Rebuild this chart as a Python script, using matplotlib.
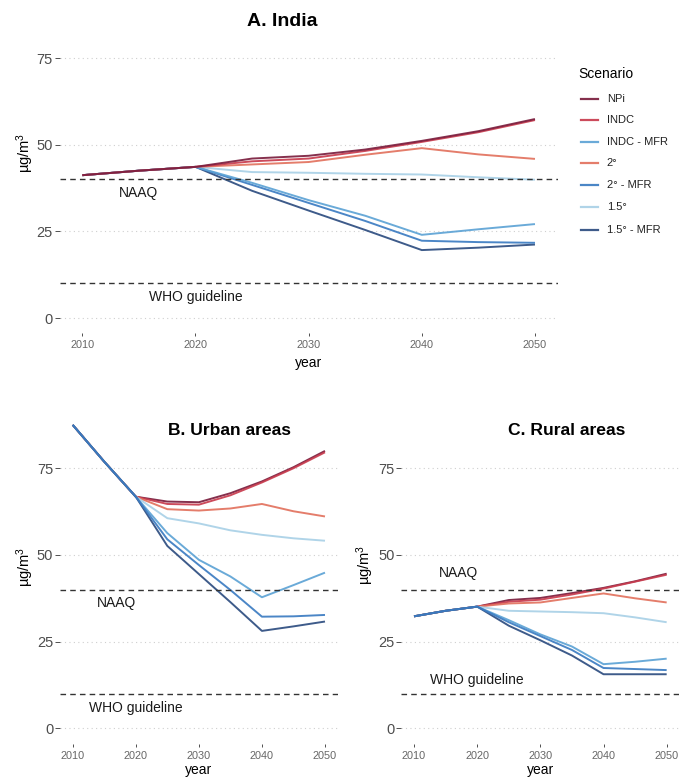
import matplotlib
matplotlib.use("Agg")
import matplotlib.pyplot as plt
from matplotlib.lines import Line2D

plt.rcParams["font.family"] = ["Liberation Sans", "DejaVu Sans"]
plt.rcParams["mathtext.fontset"] = "custom"
plt.rcParams["mathtext.rm"] = "Liberation Sans"
plt.rcParams["mathtext.it"] = "Liberation Sans:italic"

# ---- data (µg/m3) ----
years = [2010, 2015, 2020, 2025, 2030, 2035, 2040, 2045, 2050]
scenarios = ["NPi", "INDC", "INDC - MFR", "2°", "2° - MFR", "1.5°", "1.5° - MFR"]
colors = ["#7B1E3E", "#C83C4E", "#5DA3D5", "#E2725E", "#3C7CC2", "#A9D1E7", "#2D4D80"]

india = [
    [41.2, 42.5, 43.6, 46.0, 46.8, 48.6, 51.1, 53.9, 57.4],
    [41.2, 42.5, 43.6, 45.2, 46.0, 48.2, 50.8, 53.6, 57.1],
    [41.2, 42.5, 43.6, 39.0, 34.0, 29.5, 24.0, 25.6, 27.1],
    [41.2, 42.5, 43.6, 44.3, 45.0, 47.1, 49.0, 47.2, 45.9],
    [41.2, 42.5, 43.6, 38.4, 33.2, 28.0, 22.3, 21.9, 21.7],
    [41.2, 42.5, 43.6, 42.1, 41.9, 41.6, 41.4, 40.6, 39.9],
    [41.2, 42.5, 43.6, 36.7, 31.0, 25.4, 19.6, 20.3, 21.2],
]
urban = [
    [87.5, 76.9, 66.8, 65.4, 65.2, 67.8, 71.2, 75.3, 80.0],
    [87.5, 76.9, 66.8, 64.7, 64.5, 67.2, 70.9, 75.0, 79.6],
    [87.5, 76.9, 66.8, 56.3, 48.6, 43.8, 37.8, 41.3, 44.9],
    [87.5, 76.9, 66.8, 63.2, 62.8, 63.4, 64.7, 62.6, 61.1],
    [87.5, 76.9, 66.8, 54.5, 47.1, 39.9, 32.2, 32.3, 32.7],
    [87.5, 76.9, 66.8, 60.6, 59.1, 57.1, 55.8, 54.8, 54.1],
    [87.5, 76.9, 66.8, 52.6, 44.5, 36.4, 28.1, 29.4, 30.8],
]
rural = [
    [32.3, 33.9, 35.1, 37.0, 37.6, 39.0, 40.5, 42.4, 44.6],
    [32.3, 33.9, 35.1, 36.5, 37.1, 38.6, 40.3, 42.3, 44.3],
    [32.3, 33.9, 35.1, 31.2, 27.1, 23.6, 18.5, 19.2, 20.1],
    [32.3, 33.9, 35.1, 36.0, 36.3, 37.6, 38.9, 37.5, 36.3],
    [32.3, 33.9, 35.1, 30.6, 26.6, 22.6, 17.4, 17.1, 16.8],
    [32.3, 33.9, 35.1, 33.9, 33.7, 33.5, 33.2, 32.0, 30.6],
    [32.3, 33.9, 35.1, 29.6, 25.4, 21.0, 15.6, 15.6, 15.6],
]
naaq = 40
who = 10

W, H = 681, 778
fig = plt.figure(figsize=(W / 100, H / 100), dpi=100)


def px_axes(x0, x1, ytop, ybot):
    return fig.add_axes([x0 / W, 1 - ybot / H, (x1 - x0) / W, (ybot - ytop) / H])


def style(ax, ylim, order, data, naaq_xy, who_xy):
    for i in order:
        ax.plot(years, data[i], color=colors[i], lw=1.4, alpha=0.92,
                solid_capstyle="butt", clip_on=False)
    ax.axhline(naaq, color="#333333", lw=1.0, ls=(0, (4, 3)))
    ax.axhline(who, color="#333333", lw=1.0, ls=(0, (4, 3)))
    ax.text(naaq_xy[0], naaq_xy[1], "NAAQ", ha="center", va="center",
            fontsize=10, color="#1a1a1a")
    ax.text(who_xy[0], who_xy[1], "WHO guideline", ha="center", va="center",
            fontsize=10, color="#1a1a1a")
    ax.set_xlim(2008, 2052)
    ax.set_ylim(*ylim)
    ax.set_xticks([2010, 2020, 2030, 2040, 2050])
    ax.set_yticks([0, 25, 50, 75])
    for s in ax.spines.values():
        s.set_visible(False)
    ax.grid(axis="y", color="#cfcfcf", lw=0.8, ls=(0, (1, 3)))
    ax.grid(axis="x", visible=False)
    ax.set_axisbelow(True)
    ax.tick_params(axis="y", length=3.5, width=0.6, color="#333333",
                   labelsize=10.5, labelcolor="#4D4D4D", pad=1.5)
    ax.tick_params(axis="x", length=2.5, width=0.6, color="#333333",
                   labelsize=7.8, labelcolor="#666666", pad=3)


# A. India
axA = px_axes(59.7, 557.6, 26.8, 332.6)
style(axA, (-4.2, 84), [6, 5, 4, 3, 2, 1, 0], india, (2015, 36), (2020, 6))
fig.text(282 / W, 1 - 21.7 / H, "A. India", ha="center", va="center",
         fontsize=14, fontweight="bold")
fig.text(308.7 / W, 1 - 363.3 / H, "year", ha="center", va="center", fontsize=10)
fig.text(25 / W, 1 - 153 / H, "µg/m$^3$", rotation=90, ha="center", va="center",
         fontsize=10.5)

# B. Urban areas
axB = px_axes(60.1, 337.6, 409.3, 743.6)
style(axB, (-4.4, 92), [0, 1, 3, 5, 2, 6, 4], urban, (2017, 36), (2020, 5.8))
fig.text(230 / W, 1 - 430.7 / H, "B. Urban areas", ha="center", va="center",
         fontsize=12.6, fontweight="bold")
fig.text(198.8 / W, 1 - 770 / H, "year", ha="center", va="center", fontsize=10)
fig.text(25 / W, 1 - 566.7 / H, "µg/m$^3$", rotation=90, ha="center", va="center",
         fontsize=10.5)

# C. Rural areas
axC = px_axes(401.4, 679.3, 409.3, 743.6)
style(axC, (-4.4, 92), [0, 1, 3, 5, 2, 6, 4], rural, (2017, 44.7), (2020, 13.9))
fig.text(566.7 / W, 1 - 430.7 / H, "C. Rural areas", ha="center", va="center",
         fontsize=12.6, fontweight="bold")
fig.text(540.3 / W, 1 - 770 / H, "year", ha="center", va="center", fontsize=10)
fig.text(365 / W, 1 - 565 / H, "µg/m$^3$", rotation=90, ha="center", va="center",
         fontsize=10.5)

# legend
fig.text(578 / W, 1 - 74 / H, "Scenario", ha="left", va="center", fontsize=10)
leg_y = [99, 120, 141.7, 163.3, 185, 206.7, 230]
for name, c, yy in zip(scenarios, colors, leg_y):
    fig.add_artist(Line2D([580.7 / W, 598 / W], [1 - yy / H, 1 - yy / H],
                          color=c, lw=1.6, alpha=0.92))
    fig.text(606.7 / W, 1 - yy / H, name, ha="left", va="center",
             fontsize=8, color="#222222")

fig.savefig("out.png", dpi=100)
